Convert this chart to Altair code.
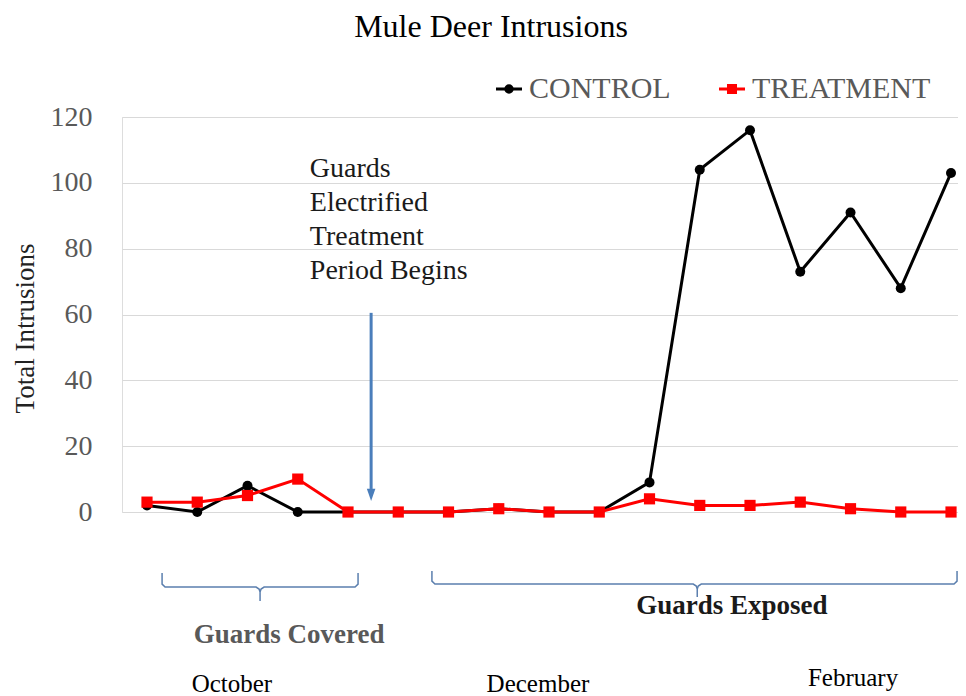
import altair as alt
import pandas as pd

# ---- data ----
idx = list(range(17))
control = [2, 0, 8, 0, 0, 0, 0, 1, 0, 0, 9, 104, 116, 73, 91, 68, 103]
treatment = [3, 3, 5, 10, 0, 0, 0, 1, 0, 0, 4, 2, 2, 3, 1, 0, 0]
series_names = ["CONTROL", "TREATMENT"]
series_colors = ["#000000", "#ff0000"]
y_ticks = [0, 20, 40, 60, 80, 100, 120]

chart_title = "Mule Deer Intrusions"
title_pos = (6.846, 144.3)

# annotation texts (positions in data units: x = sample index, y = intrusions)
note_text = ["Guards", "Electrified", "Treatment", "Period Begins"]
note_pos = (3.24, 101.8)
period_labels = ["Guards Covered", "Guards Exposed"]
period_x = [2.83, 11.64]
period_y = [-39.8, -31.0]
period_colors = ["#595959", "#1a1a1a"]
month_labels = ["October", "December", "February"]
month_x = [1.69, 7.78, 14.05]
month_y = [-54.7, -54.7, -52.9]

# braces (data units)
brace_left_x = [0.30, 0.30, 0.36, 2.17, 2.23, 2.25, 2.25, 2.25, 2.27, 2.33, 4.14, 4.20, 4.20]
brace_left_y = [-18.5, -21.9, -22.8, -22.8, -23.4, -24.3, -27.0, -24.3, -23.4, -22.8, -22.8, -21.9, -18.5]
brace_right_x = [5.67, 5.67, 5.73, 10.87, 10.93, 10.95, 10.95, 10.95, 10.97, 11.03, 16.06, 16.12, 16.12]
brace_right_y = [-17.9, -21.0, -21.9, -21.9, -22.5, -23.4, -25.8, -23.4, -22.5, -21.9, -21.9, -21.0, -17.9]

# arrow (data units)
arrow_x = 4.46
arrow_top = 60.5
arrow_bottom = 7.0
arrow_head_y = 5.2

FONT = "Liberation Serif"

df = pd.DataFrame({
    "idx": idx * 2,
    "value": control + treatment,
    "series": [series_names[0]] * len(control) + [series_names[1]] * len(treatment),
})

x_scale = alt.Scale(domain=[-0.4975, 16.139], nice=False, zero=False)
y_scale = alt.Scale(domain=[0, 120], nice=False, zero=False)
color_scale = alt.Scale(domain=series_names, range=series_colors)

y_axis = alt.Axis(
    values=y_ticks, grid=True, gridColor="#d9d9d9", gridWidth=1, domain=False, ticks=False,
    labelFont=FONT, labelFontSize=28, labelColor="#595959", labelPadding=30,
    title="Total Intrusions", titleFont=FONT, titleFontSize=27, titleFontWeight="normal",
    titleColor="#222222", titleAngle=270, titleX=-89, titleY=211, titleAlign="center",
    titleBaseline="alphabetic",
)


def X(field):
    return alt.X(field, type="quantitative", scale=x_scale, axis=None)


def Y(field):
    return alt.Y(field, type="quantitative", scale=y_scale, axis=y_axis)


CTRL_PATH = "M-1,0L1,0M-0.25,0A0.25,0.25,0,1,0,0.25,0A0.25,0.25,0,1,0,-0.25,0Z"
TRT_PATH = "M-1,0L1,0M-0.27,-0.27L0.27,-0.27L0.27,0.27L-0.27,0.27Z"

legend = alt.Legend(
    title=None, orient="none", legendX=372, legendY=-43, direction="horizontal",
    labelFont=FONT, labelFontSize=30, labelColor="#595959", labelLimit=400, symbolSize=676,
    symbolStrokeWidth=3, labelOffset=5, columnPadding=42, padding=0,
    symbolType=alt.ExprRef(expr=f"datum.value === 'CONTROL' ? '{CTRL_PATH}' : '{TRT_PATH}'"),
    symbolFillColor=alt.ExprRef(expr="scale('color', datum.value)"),
    symbolStrokeColor=alt.ExprRef(expr="scale('color', datum.value)"),
    symbolOpacity=1,
)

base = alt.Chart(df).encode(
    x=X("idx"), y=Y("value"),
    color=alt.Color("series:N", scale=color_scale, legend=legend),
)

layers = []
for name, shape, size in [("CONTROL", "circle", 100), ("TREATMENT", "square", 125)]:
    sub = base.transform_filter(alt.datum.series == name)
    layers.append(sub.mark_line(strokeWidth=3))
    layers.append(sub.mark_point(shape=shape, filled=True, size=size, opacity=1))

# braces
brace_df = pd.DataFrame({
    "bx": brace_left_x + brace_right_x,
    "by": brace_left_y + brace_right_y,
    "brace": ["L"] * len(brace_left_x) + ["R"] * len(brace_right_x),
    "o": list(range(len(brace_left_x))) + list(range(len(brace_right_x))),
})
braces = alt.Chart(brace_df).mark_line(color="#5b7fae", strokeWidth=1.5).encode(
    x=X("bx"), y=Y("by"), detail="brace:N", order="o:Q")

# arrow
arrow_df = pd.DataFrame({"ax": [arrow_x], "ay": [arrow_top], "ay2": [arrow_bottom], "ah": [arrow_head_y]})
arrow_rule = alt.Chart(arrow_df).mark_rule(color="#4a7ebb", strokeWidth=3).encode(
    x=X("ax"), y=Y("ay"), y2="ay2:Q")
arrow_head = alt.Chart(arrow_df).mark_point(
    shape="M-0.7,-1L0.7,-1L0,1Z", filled=True, color="#4a7ebb", size=150, opacity=1
).encode(x=X("ax"), y=Y("ah"))

# title
title_df = pd.DataFrame({"tx": [title_pos[0]], "ty": [title_pos[1]], "t": [chart_title]})
title = alt.Chart(title_df).mark_text(
    font=FONT, fontSize=32, color="#000000", align="center", baseline="alphabetic",
).encode(x=X("tx"), y=Y("ty"), text="t:N")

# note text
note_df = pd.DataFrame({"nx": [note_pos[0]], "ny": [note_pos[1]], "t": ["\n".join(note_text)]})
note = alt.Chart(note_df).mark_text(
    font=FONT, fontSize=28, color="#1a1a1a", align="left", baseline="alphabetic",
    lineBreak="\n", lineHeight=34,
).encode(x=X("nx"), y=Y("ny"), text="t:N")

period_df = pd.DataFrame({"px": period_x, "py": period_y, "t": period_labels, "c": period_colors})
periods = alt.Chart(period_df).mark_text(
    font=FONT, fontSize=27, fontWeight="bold", align="center", baseline="alphabetic",
).encode(x=X("px"), y=Y("py"), text="t:N", color=alt.Color("c:N", scale=None, legend=None))

month_df = pd.DataFrame({"mx": month_x, "my": month_y, "t": month_labels})
months = alt.Chart(month_df).mark_text(
    font=FONT, fontSize=25, color="#000000", align="center", baseline="alphabetic",
).encode(x=X("mx"), y=Y("my"), text="t:N")

chart = alt.layer(*layers, braces, arrow_rule, arrow_head, title, note, periods, months).properties(
    width=836, height=395,
    padding={"left": 114, "top": 109, "right": 0, "bottom": 184},
    autosize=alt.AutoSizeParams(type="none"),
).configure_view(stroke=None).configure(background="white")

chart.save("out.html", embed_options={"renderer": "svg", "actions": False})
